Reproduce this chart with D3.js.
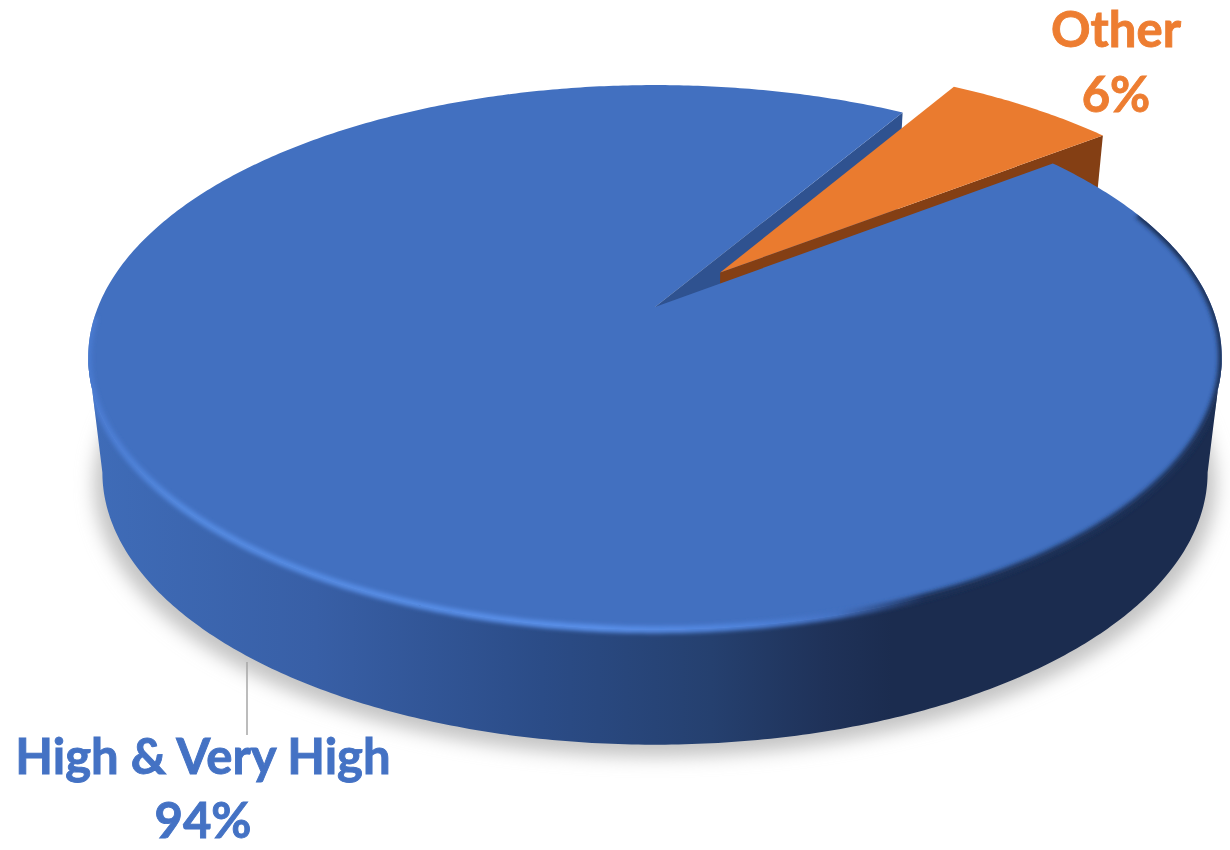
<!DOCTYPE html>
<html>
<head>
<meta charset="utf-8">
<script src="https://cdn.jsdelivr.net/npm/d3@7"></script>
<style>
  html, body { margin: 0; padding: 0; background: #fff; }
  svg { display: block; }
  text { font-family: Lato, "Noto Sans", sans-serif; font-weight: 700; text-anchor: middle; stroke-width: 0.9; }
</style>
</head>
<body>
<svg width="1230" height="850"></svg>
<script>
var categories = ["High & Very High", "Other"];
var values = [94, 6];
var percentLabels = ["94%", "6%"];

var svg = d3.select("svg");

// camera of the tilted pie: flat unit circle -> screen
var cx = 655, cy = 307, a = 557, b = 263, k = 0.185;
var depth = 115, baseScale = 0.975;
var explode = 0.18;
var rotation = 52.6 * Math.PI / 180;

var x = d3.scaleLinear().domain([-1, 1]).range([cx - a, cx + a]);
var y = d3.scaleLinear().domain([-1, 1]).range([cy + b, cy - b]);

function project(u, t, down) {
    var w = 1 + k * t;
    var s = down ? baseScale : 1;
    return [cx + (x(u / w) - cx) * s, y(t / w) + (down ? depth : 0)];
}

function onRim(angle, shift, down) {
    return project(Math.sin(angle) + shift[0], Math.cos(angle) + shift[1], down);
}

function arcPoints(a0, a1, shift, down) {
    var n = Math.ceil(Math.abs(a1 - a0) / 0.01);
    return d3.range(n + 1).map(function(i) {
        return onRim(a0 + (a1 - a0) * i / n, shift, down);
    });
}

var line = d3.line();
var pie = d3.pie().sort(null).startAngle(rotation).endAngle(rotation + 2 * Math.PI);
var slices = pie(values);
var blue = slices[0], orange = slices[1];
var noShift = [0, 0];
var mid = (orange.startAngle + orange.endAngle) / 2;
var orangeShift = [explode * Math.sin(mid), explode * Math.cos(mid)];

var blueTop = [project(0, 0)].concat(arcPoints(blue.startAngle, blue.endAngle, noShift));
var orangeTop = [project(orangeShift[0], orangeShift[1])].concat(arcPoints(orange.startAngle, orange.endAngle, orangeShift));

// the outer wall only runs between the two silhouette tangents of the ellipse
var wallStart = Math.acos(-k), wallEnd = 2 * Math.PI - wallStart;
var blueWall = arcPoints(wallStart, wallEnd, noShift)
    .concat(arcPoints(wallEnd, wallStart, noShift, true));

var defs = svg.append("defs");

var wallGrad = defs.append("linearGradient").attr("id", "wallGrad")
    .attr("gradientUnits", "userSpaceOnUse").attr("x1", 90).attr("x2", 1220).attr("y1", 0).attr("y2", 0);
[[0, "#3f6cb8"], [0.2, "#385fa6"], [0.4, "#2b4c87"], [0.55, "#25406f"], [0.65, "#1f3259"], [0.71, "#1b2c4f"], [1, "#1b2c4f"]]
    .forEach(function(s) {
        wallGrad.append("stop").attr("offset", s[0]).attr("stop-color", s[1]);
    });

var rimGrad = defs.append("linearGradient").attr("id", "rimGrad")
    .attr("gradientUnits", "userSpaceOnUse").attr("x1", 90).attr("x2", 1220).attr("y1", 0).attr("y2", 0);
[[0, "#4a7ad0"], [0.08, "#5389e0"], [0.45, "#5a90ea"], [0.58, "#4f83dc"], [0.66, "#4472c4"], [0.74, "#1d3058"], [1, "#1d3058"]]
    .forEach(function(s) {
        rimGrad.append("stop").attr("offset", s[0]).attr("stop-color", s[1]);
    });

defs.append("filter").attr("id", "shadowBlur")
    .attr("x", "-10%").attr("y", "-10%").attr("width", "120%").attr("height", "120%")
    .append("feGaussianBlur").attr("stdDeviation", 9);
defs.append("filter").attr("id", "rimBlur")
    .attr("x", "-5%").attr("y", "-5%").attr("width", "110%").attr("height", "110%")
    .append("feGaussianBlur").attr("stdDeviation", 2);

var clip = defs.append("clipPath").attr("id", "bodyClip");
clip.append("path").attr("d", line(blueTop) + "Z");
clip.append("path").attr("d", line(blueWall) + "Z");

// Add Shadow
svg.append("path")
    .attr("d", line(arcPoints(0, 2 * Math.PI, noShift, true)) + "Z")
    .attr("transform", "translate(" + cx + ",12) scale(1.015,1) translate(" + (-cx) + ",0)")
    .attr("fill", "#c4c4c4")
    .attr("filter", "url(#shadowBlur)");

// Add Walls (back to front)
svg.append("path")
    .attr("d", line(blueWall) + "Z")
    .attr("fill", "url(#wallGrad)");

var notchEdge = onRim(blue.endAngle, noShift);
var notchBase = onRim(blue.endAngle, noShift, true);
svg.append("path")
    .attr("d", line([project(0, 0), notchEdge, notchBase, project(0, 0, true)]) + "Z")
    .attr("fill", "#2f5290");

// orange side face, the blue top hides most of it
var orangeCorner = onRim(orange.endAngle, orangeShift);
var orangeCornerBase = onRim(orange.endAngle, orangeShift, true);
var orangeApex = project(orangeShift[0], orangeShift[1]);
var orangeApexBase = project(orangeShift[0], orangeShift[1], true);
svg.append("path")
    .attr("d", line([orangeApex, orangeCorner, orangeCornerBase, orangeApexBase]) + "Z")
    .attr("fill", "#843f14");

// Add Tops
svg.append("path")
    .attr("d", line(orangeTop) + "Z")
    .attr("fill", "#ea7b2f");

svg.append("path")
    .attr("d", line(blueTop) + "Z")
    .attr("fill", "#4270c0");

// Add Rim light
var rimStart = 68 * Math.PI / 180, rimEnd = 268 * Math.PI / 180;
svg.append("g").attr("clip-path", "url(#bodyClip)")
    .append("path")
    .attr("d", line(arcPoints(rimStart, rimEnd, noShift)))
    .attr("fill", "none")
    .attr("stroke", "url(#rimGrad)")
    .attr("stroke-width", 7)
    .attr("filter", "url(#rimBlur)");

// Add Labels
var leader = d3.path();
leader.moveTo(247, 662);
leader.lineTo(247, 735);
svg.append("path").attr("d", leader.toString())
    .attr("stroke", "#a6a6a6").attr("stroke-width", 1.5).attr("fill", "none");

var labelSpots = [
    {x: 203, y1: 774, y2: 838, color: "#4472c4"},
    {x: 1116, y1: 47, y2: 112, color: "#ed7d31"}
];
labelSpots.forEach(function(d, i) {
    svg.append("text").attr("x", d.x).attr("y", d.y1).attr("font-size", 49).attr("fill", d.color).attr("stroke", d.color).text(categories[i]);
    svg.append("text").attr("x", d.x).attr("y", d.y2).attr("font-size", 49).attr("fill", d.color).attr("stroke", d.color).text(percentLabels[i]);
});
</script>
</body>
</html>
